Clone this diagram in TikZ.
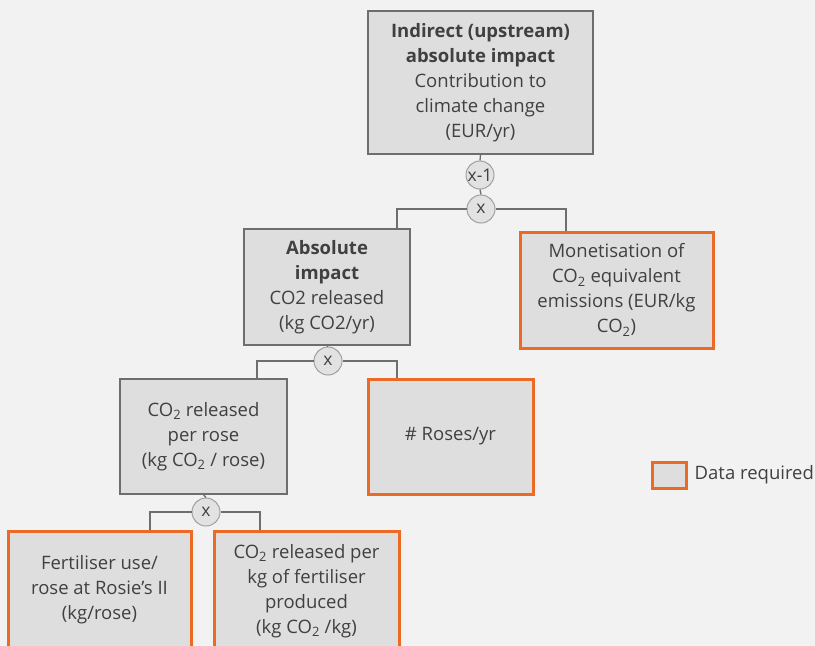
\documentclass[tikz,border=0pt]{standalone}
\usepackage{fontspec}
\setmainfont{Open Sans}
\definecolor{bg}{HTML}{F2F2F2}
\definecolor{boxfill}{HTML}{DEDEDE}
\definecolor{boxline}{HTML}{6E6E6E}
\definecolor{txt}{HTML}{404040}
\definecolor{dataorange}{HTML}{EC6A26}
\definecolor{opfill}{HTML}{E2E2E2}
\definecolor{opline}{HTML}{A0A0A0}
\newcommand{\cotwo}{CO\textsubscript{2}}
\tikzset{
  every node/.style={text=txt},
  calcbox/.style={draw=boxline, line width=1.4pt, fill=boxfill, inner sep=0pt,
    align=center, font=\fontsize{18.5}{25}\selectfont},
  databox/.style={calcbox, draw=dataorange, line width=3pt},
  opnode/.style={circle, draw=opline, line width=1pt, fill=opfill, minimum size=28pt,
    inner sep=0pt, font=\fontsize{17.5}{18}\selectfont},
  link/.style={draw=boxline, line width=1.3pt}
}
\begin{document}
\begin{tikzpicture}[x=1pt, y=-1pt]
  \fill[bg] (0,0) rectangle (815,646);
  \useasboundingbox (0,0) rectangle (815,646);
  \clip (0,0) rectangle (815,646);

  % level 0
  \node[calcbox, minimum width=225pt, minimum height=143pt] (top) at (480.5,82.5)
    {\textbf{Indirect (upstream)}\\\textbf{absolute impact}\\Contribution to\\climate change\\(EUR/yr)};
  \node[opnode] (inv) at (480,175) {x-1};
  \node[opnode] (m1) at (481,209) {x};

  % level 1
  \node[calcbox, minimum width=166pt, minimum height=116pt] (abs) at (327,287)
    {\textbf{Absolute}\\\textbf{impact}\\CO2 released\\(kg CO2/yr)};
  \node[databox, minimum width=193pt, minimum height=116pt] (mon) at (616.5,290)
    {Monetisation of\\\cotwo{} equivalent\\emissions (EUR/kg\\\cotwo)};
  \node[opnode] (m2) at (328,361) {x};

  % level 2
  \node[calcbox, minimum width=167pt, minimum height=115pt] (rose) at (203.5,436.5)
    {\cotwo{} released\\per rose\\(kg \cotwo{} / rose)};
  \node[databox, minimum width=165pt, minimum height=115pt] (roses) at (450.5,436.5)
    {\# Roses/yr};
  \node[opnode] (m3) at (206,512) {x};

  % level 3 (runs past the lower edge)
  \node[databox, minimum width=183pt, minimum height=130pt] (fert) at (99.5,596)
    {Fertiliser use/\\rose at Rosie’s II\\(kg/rose)\\[-8pt]};
  \node[databox, minimum width=185pt, minimum height=130pt] (perkg) at (306.5,596)
    {\cotwo{} released per\\kg of fertiliser\\produced\\(kg \cotwo{} /kg)\\[-10pt]};

  % legend
  \node[databox, minimum width=34pt, minimum height=26pt] (key) at (669,475) {};
  \node[anchor=west, inner sep=0pt, font=\fontsize{18.5}{20}\selectfont] (keytext)
    at ([xshift=7pt]key.east) {Data required};

  % connectors
  \draw[link] (top.south) -- (inv.north);
  \draw[link] (inv.south) -- (m1.north);
  \draw[link] (m1.west) -| ([xshift=70pt]abs.north);
  \draw[link] (m1.east) -| ([xshift=-50.5pt]mon.north);
  \draw[link] (abs.south) -- (m2.north);
  \draw[link] (m2.west) -| ([xshift=53.5pt]rose.north);
  \draw[link] (m2.east) -| ([xshift=-53.5pt]roses.north);
  \draw[link] (rose.south) -- (m3.north);
  \draw[link] (m3.west) -| ([xshift=50.5pt]fert.north);
  \draw[link] (m3.east) -| ([xshift=-46.5pt]perkg.north);
\end{tikzpicture}
\end{document}
